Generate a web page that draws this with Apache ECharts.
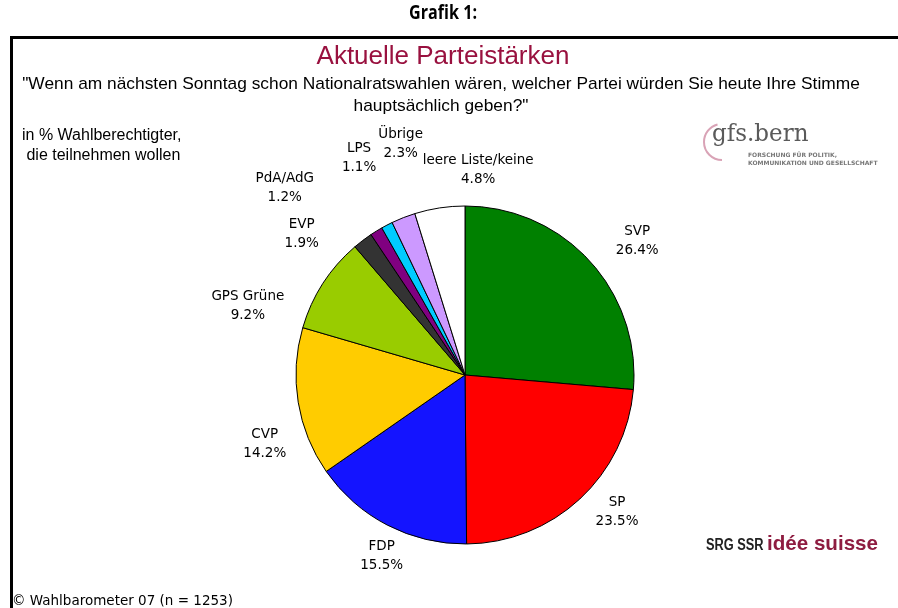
<!DOCTYPE html>
<html>
<head>
<meta charset="utf-8">
<script src="https://cdn.jsdelivr.net/npm/echarts@6/dist/echarts.min.js"></script>
<style>
  html, body { margin: 0; padding: 0; background: #fff; }
  #chart { width: 898px; height: 608px; }
</style>
</head>
<body>
<div id="chart"></div>
<script>
// Parteien im Uhrzeigersinn ab 12 Uhr
const parties = ['SVP', 'SP', 'FDP', 'CVP', 'GPS Grüne', 'EVP', 'PdA/AdG', 'LPS', 'Übrige', 'leere Liste/keine'];
const shares = [26.4, 23.5, 15.5, 14.2, 9.2, 1.9, 1.2, 1.1, 2.3, 4.8];
const colors = ['#008000', '#ff0000', '#1414ff', '#ffcc00', '#99cc00', '#333333', '#800080', '#00ccff', '#cc99ff', '#ffffff'];

// Beschriftungen wie im Original von Hand verschoben
const labelNudge = [[16, 9], [8, -19], [14, -7], [9, 35], [-39, 46], [-35, 28], [-69, -7], [-8, -29], [13, -34], [45, 5]];

const cx = 465, cy = 375, radius = 169, labelR = 212;
const total = shares.reduce((a, b) => a + b, 0);

const myChart = echarts.init(document.getElementById('chart'));

myChart.setOption({
  backgroundColor: '#ffffff',
  animation: false,
  graphic: [
    { type: 'line', shape: { x1: 10, y1: 37.5, x2: 898, y2: 37.5 }, style: { stroke: '#000', lineWidth: 3 } },
    { type: 'line', shape: { x1: 11.5, y1: 36, x2: 11.5, y2: 608 }, style: { stroke: '#000', lineWidth: 3 } },
    // Ueberschriften
    {
      type: 'text', x: 443, y: 4, scaleX: 0.85,
      style: { text: 'Grafik 1:', font: 'bold 19px "Open Sans"', fill: '#000', align: 'center' }
    },
    {
      type: 'text', x: 443, y: 44,
      style: { text: 'Aktuelle Parteistärken', font: '26px "Liberation Sans"', fill: '#99113f', align: 'center' }
    },
    {
      type: 'text', x: 441, y: 73, scaleX: 1.02,
      style: {
        text: '"Wenn am nächsten Sonntag schon Nationalratswahlen wären, welcher Partei würden Sie heute Ihre Stimme\nhauptsächlich geben?"',
        font: '17px "Liberation Sans"', fill: '#000', align: 'center', lineHeight: 22
      }
    },
    {
      type: 'text', left: 22, top: 126,
      style: { text: 'in % Wahlberechtigter,\n die teilnehmen wollen', font: '16px "Liberation Sans"', fill: '#000', lineHeight: 20 }
    },
    {
      type: 'text', left: 12, top: 594,
      style: { text: '© Wahlbarometer 07 (n = 1253)', font: '13.5px "DejaVu Sans"', fill: '#000' }
    },
    // gfs.bern Logo
    { type: 'arc', shape: { cx: 722, cy: 142, r: 18, startAngle: Math.PI * 0.5, endAngle: Math.PI * 1.42 }, style: { stroke: '#d9a3b6', lineWidth: 2, fill: null } },
    {
      type: 'text', x: 712, y: 122, scaleX: 0.92,
      style: { text: 'gfs.bern', font: '25px "DejaVu Serif"', fill: '#5a5a5a' }
    },
    {
      type: 'text', left: 748, top: 151,
      style: { text: 'FORSCHUNG FÜR POLITIK,\nKOMMUNIKATION UND GESELLSCHAFT', font: 'bold 6px "DejaVu Sans"', fill: '#777', lineHeight: 8 }
    },
    // SRG SSR Logo
    {
      type: 'text', x: 706, y: 538, scaleX: 0.8,
      style: { text: 'SRG SSR', font: 'bold 16px "Liberation Sans"', fill: '#222' }
    },
    {
      type: 'text', x: 767, y: 534, scaleX: 0.98,
      style: { text: 'idée suisse', font: 'bold 21px "Liberation Sans"', fill: '#8e1c40' }
    }
  ],
  series: [
    {
      type: 'pie',
      center: [cx, cy],
      radius: radius,
      startAngle: 90,
      clockwise: true,
      avoidLabelOverlap: false,
      itemStyle: { borderColor: '#000', borderWidth: 1 },
      label: {
        show: true,
        position: 'outside',
        formatter: p => p.name + '\n' + p.value.toFixed(1) + '%',
        fontFamily: 'DejaVu Sans',
        fontSize: 13.5,
        lineHeight: 19,
        color: '#000',
        align: 'center'
      },
      labelLine: { show: false },
      labelLayout: function (params) {
        const i = params.dataIndex;
        let before = 0;
        for (let k = 0; k < i; k++) before += shares[k];
        const a = (before + shares[i] / 2) / total * Math.PI * 2;
        return {
          x: cx + labelR * Math.sin(a) + labelNudge[i][0],
          y: cy - labelR * Math.cos(a) + labelNudge[i][1],
          align: 'center',
          verticalAlign: 'middle'
        };
      },
      emphasis: { disabled: true },
      data: parties.map((name, i) => ({ name: name, value: shares[i], itemStyle: { color: colors[i] } }))
    }
  ]
});

window.onresize = function () {
  myChart.resize();
};
</script>
</body>
</html>
